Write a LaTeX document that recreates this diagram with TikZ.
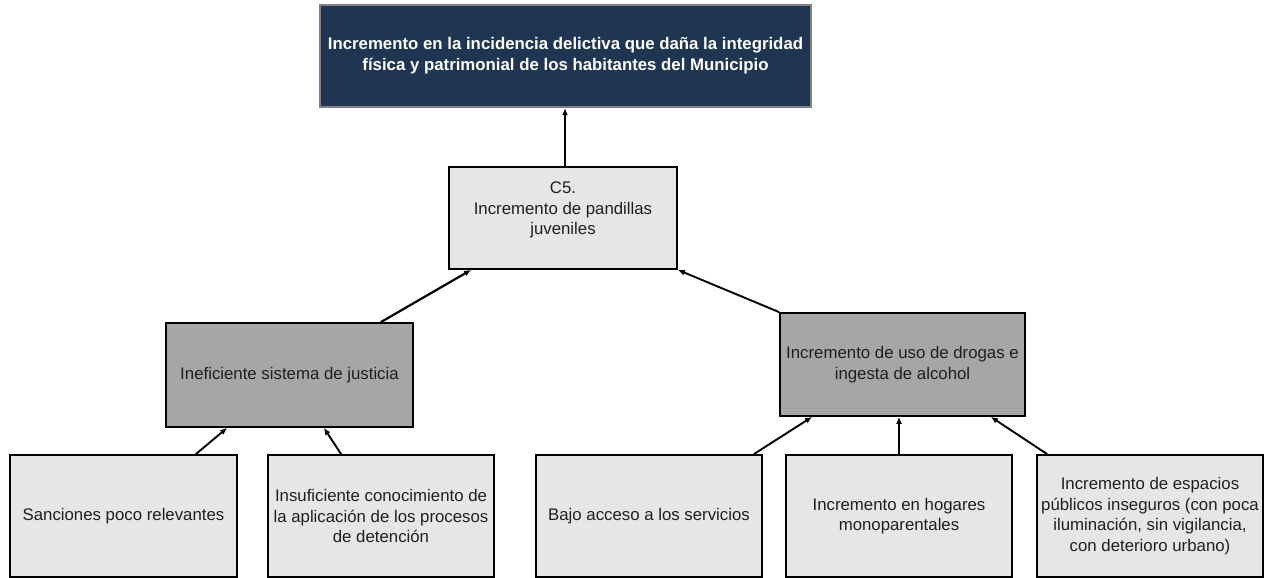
\documentclass[tikz,border=0pt]{standalone}
\usepackage{fontspec}
\setmainfont{Liberation Sans}
\usetikzlibrary{arrows.meta,calc}

\definecolor{azulmarino}{HTML}{1F3552}
\definecolor{grisclaro}{HTML}{E6E6E6}
\definecolor{grisoscuro}{HTML}{A6A6A6}
\definecolor{grismarco}{HTML}{808080}

\begin{document}
\begin{tikzpicture}[x=1pt, y=-1pt,
    texto/.style={align=center, text=black!88, font=\fontsize{16.8}{20.5}\selectfont, inner sep=0pt},
    problema/.style={draw=grismarco, line width=2.4pt, fill=azulmarino, text=white,
      align=center, font=\bfseries\fontsize{16.8}{21}\selectfont, inner sep=0pt},
    causa/.style={texto, draw=black, line width=1.8pt, fill=grisclaro},
    subcausa/.style={causa, fill=grisoscuro},
    flecha/.style={line width=1.9pt, -{Latex[length=7pt,width=6pt]}}]

    \useasboundingbox (0,0) rectangle (1272,578);

    % Problema central
    \node[problema, minimum width=491, minimum height=102] (top) at (565.5,56)
      {Incremento en la incidencia delictiva que daña la integridad\\
       física y patrimonial de los habitantes del Municipio};

    % Componente C5
    \node[causa, minimum width=228, minimum height=102] (c5) at (563,218) {};
    \node[texto] (c5txt) at (563,210) {C5.\\Incremento de pandillas\\juveniles};

    % Causas
    \node[subcausa, minimum width=247, minimum height=104] (inef) at (289.5,375)
      {Ineficiente sistema de justicia};
    \node[subcausa, minimum width=245, minimum height=103] (drog) at (902.5,364.5)
      {Incremento de uso de drogas e\\ingesta de alcohol};

    % Subcausas
    \node[causa, minimum width=227, minimum height=122] (sanc) at (123.5,516)
      {Sanciones poco relevantes};
    \node[causa, minimum width=226, minimum height=122] (insuf) at (381,516)
      {Insuficiente conocimiento de\\la aplicación de los procesos\\de detención};
    \node[causa, minimum width=226, minimum height=122] (bajo) at (649,516)
      {Bajo acceso a los servicios};
    \node[causa, minimum width=226, minimum height=122] (hogar) at (899,516)
      {Incremento en hogares\\monoparentales};
    \node[causa, minimum width=226, minimum height=122] (espac) at (1150,516)
      {Incremento de espacios\\públicos inseguros (con poca\\iluminación, sin vigilancia,\\con deterioro urbano)};

    % Flechas
    \draw[flecha, line width=2.4pt] ([xshift=2pt]c5.north) -- ([xshift=2pt]c5.north |- top.south);
    \draw[flecha, line width=2.2pt] ([xshift=-33pt]inef.north east) -- ([xshift=23pt]c5.south west);
    \draw[flecha] (drog.north west) -- (c5.south east);
    \draw[flecha] ([xshift=-42pt]sanc.north east) -- ([xshift=62pt]inef.south west);
    \draw[flecha] ([xshift=74pt]insuf.north west) -- ([xshift=-90pt]inef.south east);
    \draw[flecha] ([xshift=-9pt]bajo.north east) -- ([xshift=33pt]drog.south west);
    \draw[flecha] (hogar.north) -- (hogar.north |- drog.south);
    \draw[flecha] ([xshift=11pt]espac.north west) -- ([xshift=-35pt]drog.south east);

\end{tikzpicture}
\end{document}
